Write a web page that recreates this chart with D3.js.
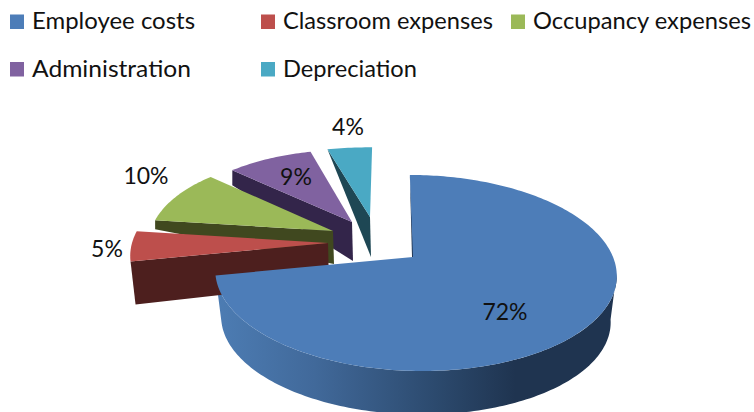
<!DOCTYPE html>
<html>
<head>
<meta charset="utf-8">
<script src="https://cdn.jsdelivr.net/npm/d3@7"></script>
<style>
  body { margin: 0; background: #fff; }
  text { font-family: Lato, "Open Sans", sans-serif; fill: #111; }
</style>
</head>
<body>
<div id="chart"></div>
<script>
// values
const categories = ["Employee costs", "Classroom expenses", "Occupancy expenses", "Administration", "Depreciation"];
const shares = [72, 5, 10, 9, 4];
const labels = ["72%", "5%", "10%", "9%", "4%"];

// colours
const topColors = ["#4d7db8", "#bd4f4c", "#9bb958", "#8062a0", "#4aa9c4"];
const sideColors = ["#2a4566", "#4d1f1e", "#40481f", "#33254a", "#1e4754"];

// layout of each slice: apex of the top face, rim scale, depth of the cut face
const apexX = [413, 328, 333, 352, 370];
const apexY = [257, 243, 231, 222, 217];
const rimScaleX = [1, 1, 0.93, 0.91, 1.05];
const rimScaleY = [1, 1, 0.92, 0.88, 0.85];
const rimShear = [-6, -6, -6, -6, 0];
const depthAtApex = [0, 40, 33, 39, 40];
const depthAtRim = [0, 43, 9, 15, 0];
const rimShift = [0, 5, 0, 0, 0];
const labelX = [505, 107, 146, 296, 348];
const labelY = [312, 249, 176, 177, 127];

// legend layout
const legendX = [10, 261, 511, 10, 261];
const legendY = [14.5, 14.5, 14.5, 62, 62];
const legendTextX = [32, 283, 533, 32, 283];
const legendTextW = [163, 210, 218, 159, 134];

const width = 754, height = 412;

const svg = d3.select("#chart").append("svg")
    .attr("width", width)
    .attr("height", height);

const defs = svg.append("defs");
const grad = defs.append("linearGradient")
    .attr("id", "blueSide")
    .attr("gradientUnits", "userSpaceOnUse")
    .attr("x1", 214).attr("x2", 616).attr("y1", 0).attr("y2", 0);
[[0, "#4d7db4"], [0.25, "#41699a"], [0.55, "#2c4a6e"], [0.75, "#1f3450"], [1, "#1f3450"]]
    .forEach(s => grad.append("stop").attr("offset", s[0]).attr("stop-color", s[1]));

// perspective pie: far half is squeezed, near half stretched
const tilt = 0.163, rx = 198, ry = 95.4;
function rim(a, i, k = 1) {
    const u = Math.sin(a), v = Math.cos(a), w = 1 + tilt * v;
    return [k * rimScaleX[i] * (2 + (rx * u + rimShear[i] * v) / w), -k * rimScaleY[i] * ry * v / w];
}

const pie = d3.pie().sort(null).value(d => d);
const slices = pie(shares);
const line = d3.line();

function rimPoints(a0, a1, i, k) {
    const n = Math.max(2, Math.ceil((a1 - a0) / 0.02));
    return d3.range(n + 1).map(j => rim(a0 + (a1 - a0) * j / n, i, k));
}

// blue side wall under the big slice
const s0 = slices[0];
const wallStart = Math.acos(-tilt);
const wallTop = rimPoints(wallStart, s0.endAngle, 0, 1);
const wallBottom = rimPoints(wallStart, s0.endAngle, 0, 0.97).map(p => [p[0], p[1] + 47]).reverse();
svg.append("path")
    .attr("d", line(wallTop.concat(wallBottom).map(p => [apexX[0] + p[0], apexY[0] + p[1]])) + "Z")
    .attr("fill", "url(#blueSide)");

// back slices first, big slice last
d3.range(slices.length - 1, -1, -1).forEach(i => {
    const s = slices[i], ax = apexX[i], ay = apexY[i];
    const at = p => [ax + p[0], ay + p[1]];
    const corner = at(rim(s.startAngle, i));

    if (i > 0) {
        svg.append("path")
            .attr("d", line([
                corner,
                [ax, ay],
                [ax + 1, ay + depthAtApex[i]],
                [corner[0] + rimShift[i], corner[1] + depthAtRim[i]]
            ]) + "Z")
            .attr("fill", sideColors[i]);
    } else {
        // thin cut face at twelve o'clock
        svg.append("path")
            .attr("d", line([corner, [ax + 1, ay], [ax - 1, ay]]) + "Z")
            .attr("fill", "#1f3450");
    }

    svg.append("path")
        .attr("d", line([[ax, ay]].concat(rimPoints(s.startAngle, s.endAngle, i, 1).map(at))) + "Z")
        .attr("fill", topColors[i]);
});

// data labels
svg.selectAll("text.pct")
    .data(labels)
    .join("text")
    .attr("class", "pct")
    .attr("x", (d, i) => labelX[i])
    .attr("y", (d, i) => labelY[i] + 8)
    .attr("text-anchor", "middle")
    .attr("font-size", 23)
    .text(d => d);

// legend
const legend = svg.selectAll("g.legend")
    .data(categories)
    .join("g")
    .attr("class", "legend");
legend.append("rect")
    .attr("x", (d, i) => legendX[i])
    .attr("y", (d, i) => legendY[i])
    .attr("width", 14)
    .attr("height", 14.5)
    .attr("fill", (d, i) => topColors[i]);
legend.append("text")
    .attr("x", (d, i) => legendTextX[i])
    .attr("y", (d, i) => legendY[i] + 14.5)
    .attr("font-size", 23.5)
    .attr("textLength", (d, i) => legendTextW[i])
    .attr("lengthAdjust", "spacingAndGlyphs")
    .text(d => d);
</script>
</body>
</html>
